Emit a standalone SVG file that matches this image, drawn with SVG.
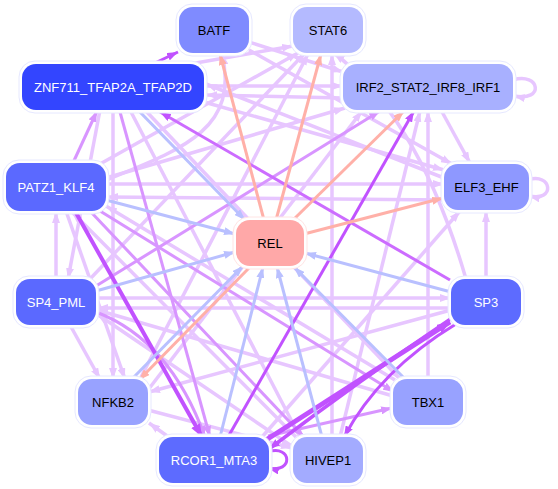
<svg xmlns="http://www.w3.org/2000/svg" width="558" height="489" viewBox="0 0 558 489">
<style>
.e{fill:none;stroke-linecap:butt}
.p{stroke:#e7c6ff;stroke-width:3.5;marker-end:url(#ap)}
.m{stroke:#d895ff;stroke-width:3;marker-end:url(#am)}
.st{stroke:#c152ff;stroke-width:3;marker-end:url(#as)}
.stk{stroke:#c152ff;stroke-width:5;marker-end:url(#ask)}
.b{stroke:#b9c0ff;stroke-width:3;marker-end:url(#ab)}
.s{stroke:#ffb0a8;stroke-width:3;marker-end:url(#asa)}
.halo{fill:#ffffff;stroke:#e6e8ff;stroke-width:1}
.lbl{font-family:"Liberation Sans",Arial,sans-serif;font-size:13px;text-anchor:middle}
.w{fill:#ffffff}
.k{fill:#000000}
</style>
<defs>
<marker id="ap" viewBox="0 0 11 8" refX="11" refY="4" markerWidth="11" markerHeight="8" markerUnits="userSpaceOnUse" orient="auto"><path d="M0,0 L11,4 L0,8 z" fill="#e7c6ff"/></marker>
<marker id="am" viewBox="0 0 11 8" refX="11" refY="4" markerWidth="11" markerHeight="8" markerUnits="userSpaceOnUse" orient="auto"><path d="M0,0 L11,4 L0,8 z" fill="#d895ff"/></marker>
<marker id="as" viewBox="0 0 11 8" refX="11" refY="4" markerWidth="11" markerHeight="8" markerUnits="userSpaceOnUse" orient="auto"><path d="M0,0 L11,4 L0,8 z" fill="#c152ff"/></marker>
<marker id="ask" viewBox="0 0 13 10" refX="13" refY="5" markerWidth="13" markerHeight="10" markerUnits="userSpaceOnUse" orient="auto"><path d="M0,0 L13,5 L0,10 z" fill="#c152ff"/></marker>
<marker id="ab" viewBox="0 0 11 8" refX="11" refY="4" markerWidth="11" markerHeight="8" markerUnits="userSpaceOnUse" orient="auto"><path d="M0,0 L11,4 L0,8 z" fill="#b9c0ff"/></marker>
<marker id="asa" viewBox="0 0 11 8" refX="11" refY="4" markerWidth="11" markerHeight="8" markerUnits="userSpaceOnUse" orient="auto"><path d="M0,0 L11,4 L0,8 z" fill="#ffb0a8"/></marker>
</defs>
<rect width="558" height="489" fill="#ffffff"/>
<g id="edges">
<path class="e p" d="M204,86 L343,86"/>
<path class="e p" d="M343,98 L206,95"/>
<path class="e p" d="M444,178 L206,84"/>
<path class="e p" d="M190,64 L293,46"/>
<path class="e p" d="M204,102 L444,170"/>
<path class="e p" d="M100,110 L68,279"/>
<path class="e p" d="M113,110 L113,379"/>
<path class="e p" d="M145,110 L400,379"/>
<path class="e p" d="M100,164 L298,53"/>
<path class="e p" d="M106,178 L345,108"/>
<path class="e p" d="M106,184 L444,184"/>
<path class="e p" d="M444,200 L107,197"/>
<path class="e p" d="M66,211 L125,379"/>
<path class="e p" d="M56,279 L56,212"/>
<path class="e p" d="M70,325 L100,379"/>
<path class="e p" d="M90,279 L305,53"/>
<path class="e p" d="M96,298 L451,298"/>
<path class="e p" d="M451,308 L97,308"/>
<path class="e p" d="M486,279 L486,211"/>
<path class="e p" d="M451,310 L149,392"/>
<path class="e p" d="M466,279 Q420,120 334,53"/>
<path class="e p" d="M106,180 C180,150 240,130 222,54"/>
<path class="e p" d="M441,110 L470,163"/>
<path class="e p" d="M513,80 C540,72 545,102 514,96"/>
<path class="e p" d="M528,180 C552,172 556,202 529,196"/>
<path class="e p" d="M428,379 L428,111"/>
<path class="e p" d="M395,380 L106,206"/>
<path class="e p" d="M393,396 L97,310"/>
<path class="e p" d="M332,437 L332,54"/>
<path class="e p" d="M340,437 L420,111"/>
<path class="e p" d="M296,437 L72,212"/>
<path class="e p" d="M293,447 L97,314"/>
<path class="e p" d="M170,438 L149,423"/>
<path class="e p" d="M262,437 L460,211"/>
<path class="e p" d="M148,390 L362,111"/>
<path class="e p" d="M140,379 L308,54"/>
<path class="e p" d="M148,410 L292,448"/>
<path class="e p" d="M249,42 L343,72"/>
<path class="e p" d="M249,50 L452,164"/>
<path class="e p" d="M130,110 L300,437"/>
<path class="e m" d="M72,165 L97,111"/>
<path class="e m" d="M96,312 Q170,340 205,437"/>
<path class="e m" d="M120,112 L210,437"/>
<path class="e m" d="M268,436 L392,408"/>
<path class="e m" d="M96,286 L380,111"/>
<path class="e m" d="M90,211 L304,437"/>
<path class="e m" d="M100,211 L394,392"/>
<path class="e st" d="M155,63 L178,52"/>
<path class="e st" d="M228,437 L414,111"/>
<path class="e st" style="stroke:#cc6cff" d="M450,280 L160,112"/>
<path class="e stk" d="M266,440 L450,322"/>
<path class="e st" style="stroke-width:3.5" d="M452,318 Q360,380 269,449"/>
<path class="e st" d="M456,324 Q380,370 344,437"/>
<path class="e st" d="M268,452 C292,444 294,474 268,468"/>
<path class="e stk" style="stroke-width:4" d="M75,211 L202,437"/>
<path class="e b" d="M138,110 L245,220"/>
<path class="e b" d="M106,200 L235,234"/>
<path class="e b" d="M96,291 L235,252"/>
<path class="e b" d="M451,292 L305,253"/>
<path class="e b" d="M405,379 L294,267"/>
<path class="e b" d="M322,437 L277,267"/>
<path class="e b" d="M220,437 L263,267"/>
<path class="e b" d="M132,379 L243,266"/>
<path class="e s" d="M264,220 L220,54"/>
<path class="e s" d="M276,220 L321,54"/>
<path class="e s" d="M293,220 L404,111"/>
<path class="e s" d="M304,234 L443,198"/>
<path class="e s" d="M250,267 L139,380"/>
</g>
<g id="BATF"><rect class="halo" x="176" y="4" width="76" height="52" rx="16"/><rect x="179" y="7" width="70" height="46" rx="14" fill="#7f8bff"/><text class="lbl k" x="214" y="34.5">BATF</text></g>
<g id="STAT6"><rect class="halo" x="290" y="4" width="76" height="52" rx="16"/><rect x="293" y="7" width="70" height="46" rx="14" fill="#b4baff"/><text class="lbl k" x="328" y="34.5">STAT6</text></g>
<g id="ZNF711_TFAP2A_TFAP2D"><rect class="halo" x="19" y="61" width="188" height="52" rx="16"/><rect x="22" y="64" width="182" height="46" rx="14" fill="#3345ff"/><text class="lbl w" x="113" y="91.5">ZNF711_TFAP2A_TFAP2D</text></g>
<g id="IRF2_STAT2_IRF8_IRF1"><rect class="halo" x="340" y="61" width="176" height="52" rx="16"/><rect x="343" y="64" width="170" height="46" rx="14" fill="#a8b0ff"/><text class="lbl k" x="428" y="91.5">IRF2_STAT2_IRF8_IRF1</text></g>
<g id="PATZ1_KLF4"><rect class="halo" x="3" y="160" width="106" height="54" rx="16"/><rect x="6" y="163" width="100" height="48" rx="14" fill="#5b69ff"/><text class="lbl w" x="56" y="191.5">PATZ1_KLF4</text></g>
<g id="ELF3_EHF"><rect class="halo" x="441" y="161" width="91" height="52" rx="16"/><rect x="444" y="164" width="85" height="46" rx="14" fill="#8e98ff"/><text class="lbl k" x="486.5" y="191.5">ELF3_EHF</text></g>
<g id="REL"><rect class="halo" x="233" y="217" width="74" height="52" rx="16" style="stroke:#ffe4e4"/><rect x="236" y="220" width="68" height="46" rx="14" fill="#ffa8a8"/><text class="lbl k" x="270" y="247.5">REL</text></g>
<g id="SP4_PML"><rect class="halo" x="13" y="276" width="86" height="52" rx="16"/><rect x="16" y="279" width="80" height="46" rx="14" fill="#5b69ff"/><text class="lbl w" x="56" y="306.5">SP4_PML</text></g>
<g id="SP3"><rect class="halo" x="448" y="276" width="76" height="52" rx="16"/><rect x="451" y="279" width="70" height="46" rx="14" fill="#5d6bff"/><text class="lbl w" x="486" y="306.5">SP3</text></g>
<g id="NFKB2"><rect class="halo" x="75" y="376" width="76" height="52" rx="16"/><rect x="78" y="379" width="70" height="46" rx="14" fill="#98a2ff"/><text class="lbl k" x="113" y="406.5">NFKB2</text></g>
<g id="TBX1"><rect class="halo" x="390" y="376" width="76" height="52" rx="16"/><rect x="393" y="379" width="70" height="46" rx="14" fill="#98a2ff"/><text class="lbl k" x="428" y="406.5">TBX1</text></g>
<g id="RCOR1_MTA3"><rect class="halo" x="156" y="434" width="116" height="52" rx="16"/><rect x="159" y="437" width="110" height="46" rx="14" fill="#5d6bff"/><text class="lbl w" x="214" y="464.5">RCOR1_MTA3</text></g>
<g id="HIVEP1"><rect class="halo" x="290" y="434" width="76" height="52" rx="16"/><rect x="293" y="437" width="70" height="46" rx="14" fill="#a3abff"/><text class="lbl k" x="328" y="464.5">HIVEP1</text></g>
</svg>
